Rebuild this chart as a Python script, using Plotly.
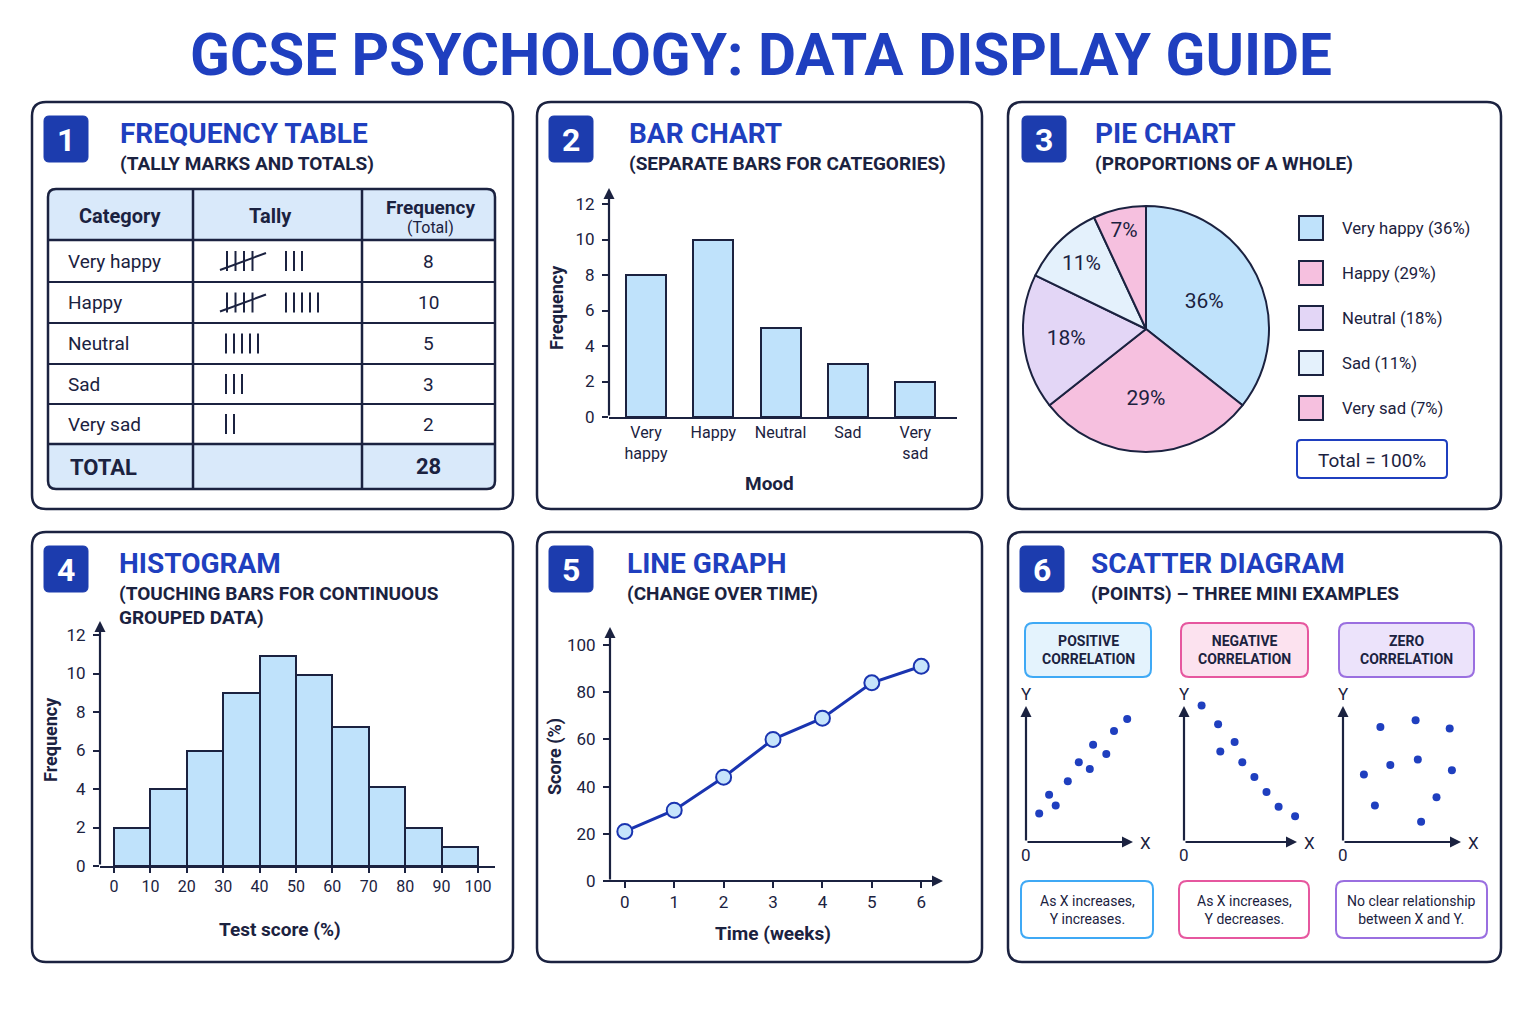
import plotly.graph_objects as go

W, H = 1536, 1024
OFF = 8  # the page body adds an 8px margin around the figure

# ---- data ----
moods = ["Very happy", "Happy", "Neutral", "Sad", "Very sad"]
mood_ticks = ["Very<br>happy", "Happy", "Neutral", "Sad", "Very<br>sad"]
freq = [8, 10, 5, 3, 2]
tally_gates = [1, 1, 0, 0, 0]
tally_singles = [3, 5, 5, 3, 2]

pie_pct = [36, 29, 18, 11, 7]

hist_edges = [0, 10, 20, 30, 40, 50, 60, 70, 80, 90, 100]
hist_freq = [2, 4, 6, 9, 10.9, 9.9, 7.2, 4.1, 2, 1]

weeks = [0, 1, 2, 3, 4, 5, 6]
scores = [21, 30, 44, 60, 69, 84, 91]

pos_x = [1.2, 2.1, 2.7, 3.8, 4.8, 5.8, 6.1, 7.3, 8.0, 9.2]
pos_y = [2.1, 3.5, 2.7, 4.5, 5.9, 5.4, 7.2, 6.5, 8.2, 9.1]
neg_x = [1.6, 3.1, 3.3, 4.6, 5.3, 6.4, 7.5, 8.6, 10.1]
neg_y = [10.1, 8.7, 6.7, 7.4, 5.9, 4.8, 3.7, 2.6, 1.9]
zero_x = [3.4, 6.6, 9.7, 1.9, 4.3, 6.8, 9.9, 2.9, 8.5, 7.1]
zero_y = [8.5, 9.0, 8.4, 5.0, 5.7, 6.1, 5.3, 2.7, 3.3, 1.5]

# ---- styling ----
FONT = "Roboto, sans-serif"
NAVY = "#1b2240"
BLUE = "#1f3fbf"
BADGE = "#1c3cae"
LIGHTBLUE = "#bfe2fb"
PINK = "#f6c0df"
LAVENDER = "#e3d6f6"
PALEBLUE = "#e4f1fc"
HEADER = "#d9e9fa"
pie_colors = [LIGHTBLUE, PINK, LAVENDER, PALEBLUE, PINK]


def fx(x):
    return (x - OFF) / W


def fy(y):
    return 1 - (y - OFF) / H


def dx(a, b):
    return [fx(a), fx(b)]


def dy(top, bottom):
    return [fy(bottom), fy(top)]


shapes = []
annotations = []


def rrect(x0, y0, x1, y1, r, line=NAVY, width=2.5, fill="rgba(0,0,0,0)", layer="above"):
    p = (f"M{fx(x0 + r)},{fy(y0)} L{fx(x1 - r)},{fy(y0)} Q{fx(x1)},{fy(y0)} {fx(x1)},{fy(y0 + r)} "
         f"L{fx(x1)},{fy(y1 - r)} Q{fx(x1)},{fy(y1)} {fx(x1 - r)},{fy(y1)} "
         f"L{fx(x0 + r)},{fy(y1)} Q{fx(x0)},{fy(y1)} {fx(x0)},{fy(y1 - r)} "
         f"L{fx(x0)},{fy(y0 + r)} Q{fx(x0)},{fy(y0)} {fx(x0 + r)},{fy(y0)} Z")
    shapes.append(dict(type="path", xref="paper", yref="paper", path=p, fillcolor=fill,
                       line=dict(color=line, width=width), layer=layer))


def rect(x0, y0, x1, y1, fill, layer="above"):
    shapes.append(dict(type="rect", xref="paper", yref="paper", x0=fx(x0), x1=fx(x1),
                       y0=fy(y1), y1=fy(y0), fillcolor=fill, line=dict(width=0), layer=layer))


def hline(x0, x1, y, width=2):
    shapes.append(dict(type="line", xref="paper", yref="paper", x0=fx(x0), x1=fx(x1),
                       y0=fy(y), y1=fy(y), line=dict(color=NAVY, width=width)))


def vline(x, y0, y1, width=2):
    shapes.append(dict(type="line", xref="paper", yref="paper", x0=fx(x), x1=fx(x),
                       y0=fy(y0), y1=fy(y1), line=dict(color=NAVY, width=width)))


def text(x, y, s, size, color=NAVY, anchor="center", angle=0):
    annotations.append(dict(x=fx(x), y=fy(y), xref="paper", yref="paper", text=s, showarrow=False,
                            font=dict(family=FONT, size=size, color=color), xanchor=anchor,
                            yanchor="middle", textangle=angle))


def arrow(x_tip, y_tip, x_tail, y_tail, width=2.2):
    annotations.append(dict(x=fx(x_tip), y=fy(y_tip), xref="paper", yref="paper", text="",
                            showarrow=True, ax=x_tail - x_tip, ay=y_tail - y_tip, arrowhead=2,
                            arrowsize=1, arrowwidth=width, arrowcolor=NAVY, standoff=0))


def panel(x0, y0, x1, y1, num, title, subs, tx=86, bx=12):
    rrect(x0, y0, x1, y1, 14, width=2.5, fill="#ffffff", layer="below")
    rrect(x0 + bx, y0 + 14, x0 + bx + 44, y0 + 60, 5, line=BADGE, width=1, fill=BADGE)
    text(x0 + bx + 22, y0 + 38, f"<b>{num}</b>", 32, color="#ffffff")
    text(x0 + tx, y0 + 31, f"<b>{title}</b>", 28, color=BLUE, anchor="left")
    for i, s in enumerate(subs):
        text(x0 + tx, y0 + 61 + 24 * i, f"<b>{s}</b>", 19, anchor="left")


# ---- main title ----
text(761, 55, "<b>GCSE PSYCHOLOGY: DATA DISPLAY GUIDE</b>", 58.5, color=BLUE)

# ---- panels ----
panel(32, 102, 513, 509, 1, "FREQUENCY TABLE", ["(TALLY MARKS AND TOTALS)"])
panel(537, 102, 982, 509, 2, "BAR CHART", ["(SEPARATE BARS FOR CATEGORIES)"], tx=90)
panel(1008, 102, 1501, 509, 3, "PIE CHART", ["(PROPORTIONS OF A WHOLE)"], tx=85, bx=14)
panel(32, 532, 513, 962, 4, "HISTOGRAM", ["(TOUCHING BARS FOR CONTINUOUS", "GROUPED DATA)"], tx=85)
panel(537, 532, 982, 962, 5, "LINE GRAPH", ["(CHANGE OVER TIME)"], tx=88)
panel(1008, 532, 1501, 962, 6, "SCATTER DIAGRAM", ["(POINTS) \u2013 THREE MINI EXAMPLES"], tx=81)

# ---- panel 1: frequency table ----
tx0, tx1, ty0, ty1 = 48, 495, 189, 489
col1, col2 = 193, 362
row_edges = [240, 282, 323, 364, 404, 444]
rrect(tx0, ty0, tx1, ty0 + 60, 8, line=HEADER, width=0, fill=HEADER, layer="below")
rrect(tx0, row_edges[-1] - 10, tx1, ty1, 8, line=HEADER, width=0, fill=HEADER, layer="below")
rect(tx0 + 1, row_edges[0], tx1 - 1, row_edges[-1], "#ffffff", layer="below")
for i, yy in enumerate(row_edges):
    hline(tx0, tx1, yy, 2.5 if i in (0, len(row_edges) - 1) else 2)
vline(col1, ty0, ty1, 2.5)
vline(col2, ty0, ty1, 2.5)
rrect(tx0, ty0, tx1, ty1, 8, width=2.5)

text(120, 216, "<b>Category</b>", 20)
text(270, 216, "<b>Tally</b>", 20)
text(430, 207, "<b>Frequency</b>", 19)
text(430, 227, "(Total)", 16)
tally_x, tally_y = [], []
for i, m in enumerate(moods):
    cy = (row_edges[i] + row_edges[i + 1]) / 2
    text(66, cy, m, 19, anchor="left")
    text(428, cy, str(freq[i]), 19)
    start = 226
    if tally_gates[i]:
        for k in range(4):
            xx = 227 + 8.5 * k
            tally_x += [xx, xx, None]
            tally_y += [cy - 10, cy + 10, None]
        tally_x += [220, 266, None]
        tally_y += [cy + 9, cy - 8, None]
        start = 286
    for k in range(tally_singles[i]):
        xx = start + 8 * k
        tally_x += [xx, xx, None]
        tally_y += [cy - 10, cy + 10, None]
text(68, 467, "<b>TOTAL</b>", 22, anchor="left")
text(428, 466, f"<b>{sum(freq)}</b>", 22)

fig = go.Figure()

# canvas axes (pixel units) for the tally marks
fig.add_trace(go.Scatter(x=tally_x, y=tally_y, mode="lines", line=dict(color=NAVY, width=2),
                         xaxis="x7", yaxis="y7", hoverinfo="skip"))

# ---- panel 2: bar chart ----
fig.add_trace(go.Bar(x=moods, y=freq, width=0.59, marker=dict(color=LIGHTBLUE, line=dict(color=NAVY, width=2)),
                     xaxis="x", yaxis="y"))
arrow(609, 188, 609, 417)
text(556, 308, "<b>Frequency</b>", 18, angle=-90)
text(769, 483, "<b>Mood</b>", 19)

# ---- panel 3: pie chart ----
fig.add_trace(go.Pie(values=pie_pct, labels=moods, text=[f"{p}%" for p in pie_pct], textinfo="text",
                     textposition="inside", insidetextorientation="horizontal", sort=False,
                     direction="clockwise", rotation=0,
                     textfont=dict(family=FONT, size=21, color=NAVY),
                     marker=dict(colors=pie_colors, line=dict(color=NAVY, width=2)),
                     domain=dict(x=dx(1023, 1269), y=dy(206, 452)), showlegend=False, hoverinfo="skip"))
for i, m in enumerate(moods):
    cy = 228 + 45 * i
    shapes.append(dict(type="rect", xref="paper", yref="paper", x0=fx(1299), x1=fx(1323),
                       y0=fy(cy + 12), y1=fy(cy - 12), fillcolor=pie_colors[i],
                       line=dict(color=NAVY, width=2)))
    text(1340, cy, f"{m} ({pie_pct[i]}%)", 16.7, anchor="left")
rrect(1297, 440, 1447, 478, 4, line=BLUE, width=2, fill="#ffffff")
text(1372, 460, "Total = 100%", 19)

# ---- panel 4: histogram ----
hist_mid = [(hist_edges[i] + hist_edges[i + 1]) / 2 for i in range(len(hist_freq))]
fig.add_trace(go.Bar(x=hist_mid, y=hist_freq, width=10,
                     marker=dict(color=LIGHTBLUE, line=dict(color=NAVY, width=2)),
                     xaxis="x2", yaxis="y2"))
arrow(100, 621, 100, 866)
text(50, 740, "<b>Frequency</b>", 18, angle=-90)
text(280, 929, "<b>Test score (%)</b>", 19)

# ---- panel 5: line graph ----
fig.add_trace(go.Scatter(x=weeks, y=scores, mode="lines+markers",
                         line=dict(color="#1a34b0", width=3),
                         marker=dict(size=15, color="#c6e4fb", line=dict(color="#1a34b0", width=2)),
                         xaxis="x3", yaxis="y3"))
arrow(610, 627, 610, 881)
arrow(943, 881, 603, 881)
text(555, 757, "<b>Score (%)</b>", 18, angle=-90)
text(773, 933, "<b>Time (weeks)</b>", 19)

# ---- panel 6: scatter mini examples ----
minis = [
    (pos_x, pos_y, 1026, 1133, "#3fa9f5", "#e4f3fd", "POSITIVE<br>CORRELATION", "As X increases,<br>Y increases.",
     (1025, 1151), (1021, 1153)),
    (neg_x, neg_y, 1184, 1297, "#e6579f", "#fce2ef", "NEGATIVE<br>CORRELATION", "As X increases,<br>Y decreases.",
     (1181, 1308), (1179, 1309)),
    (zero_x, zero_y, 1343, 1461, "#9a6fe0", "#ece3fb", "ZERO<br>CORRELATION", "No clear relationship<br>between X and Y.",
     (1339, 1474), (1336, 1487)),
]
for k, (xs, ys, ox, xend, edge, fill, head, cap, hb, cb) in enumerate(minis):
    n = k + 4
    fig.add_trace(go.Scatter(x=xs, y=ys, mode="markers", marker=dict(size=8, color=BLUE),
                             xaxis=f"x{n}", yaxis=f"y{n}"))
    arrow(ox, 706, ox, 842)
    arrow(xend, 842, ox, 842)
    text(ox, 694, "Y", 17)
    text(ox, 855, "0", 17)
    text(xend + 12, 843, "X", 17)
    rrect(hb[0], 623, hb[1], 677, 8, line=edge, width=2, fill=fill)
    text((hb[0] + hb[1]) / 2, 650, f"<b>{head}</b>", 14)
    rrect(cb[0], 881, cb[1], 938, 8, line=edge, width=2, fill="#ffffff")
    text((cb[0] + cb[1]) / 2, 910, cap, 14)

# ---- axes ----
tickfont = dict(family=FONT, size=17, color=NAVY)


def ax(**kw):
    base = dict(showgrid=False, zeroline=False, showline=False, ticks="", showticklabels=False,
                fixedrange=True, tickfont=tickfont, automargin=False)
    base.update(kw)
    return base


yticks = dict(showticklabels=True, ticks="outside", ticklen=6, tickwidth=2, tickcolor=NAVY,
              ticklabelstandoff=4)

layout_axes = dict(
    xaxis=ax(domain=dx(609, 957), range=[-0.55, 4.62], anchor="y", showticklabels=True,
             tickvals=moods, ticktext=mood_ticks, showline=True, linecolor=NAVY, linewidth=2,
             tickfont=dict(family=FONT, size=16, color=NAVY)),
    yaxis=ax(domain=dy(204, 417), range=[0, 12], dtick=2, anchor="x", **yticks),
    xaxis2=ax(domain=dx(100, 495), range=[-3.85, 104.7], anchor="y2", showticklabels=True,
              tickvals=hist_edges, ticks="outside", ticklen=5, tickwidth=2, tickcolor=NAVY,
              showline=True, linecolor=NAVY, linewidth=2, tickfont=dict(family=FONT, size=16, color=NAVY)),
    yaxis2=ax(domain=dy(635, 866), range=[0, 12], dtick=2, anchor="x2", **yticks),
    xaxis3=ax(domain=dx(610, 940), range=[-0.30, 6.38], dtick=1, anchor="y3", showticklabels=True,
              ticks="outside", ticklen=6, tickwidth=2, tickcolor=NAVY),
    yaxis3=ax(domain=dy(645, 881), range=[0, 100], dtick=20, anchor="x3", **yticks),
    xaxis7=ax(domain=[0, 1], range=[OFF, W + OFF], anchor="y7"),
    yaxis7=ax(domain=[0, 1], range=[H + OFF, OFF], anchor="x7"),
)
for k, (xs, ys, ox, xend, *_rest) in enumerate(minis):
    n = k + 4
    layout_axes[f"xaxis{n}"] = ax(domain=dx(ox, ox + 115.5), range=[0, 10.5], anchor=f"y{n}")
    layout_axes[f"yaxis{n}"] = ax(domain=dy(700, 842), range=[0, 10.5], anchor=f"x{n}")

fig.update_layout(
    width=W, height=H,
    margin=dict(l=0, r=0, t=0, b=0, autoexpand=False),
    paper_bgcolor="#ffffff",
    plot_bgcolor="rgba(0,0,0,0)",
    showlegend=False,
    font=dict(family=FONT, color=NAVY),
    shapes=shapes,
    annotations=annotations,
    bargap=0,
    **layout_axes,
)

fig.write_html("out.html")
